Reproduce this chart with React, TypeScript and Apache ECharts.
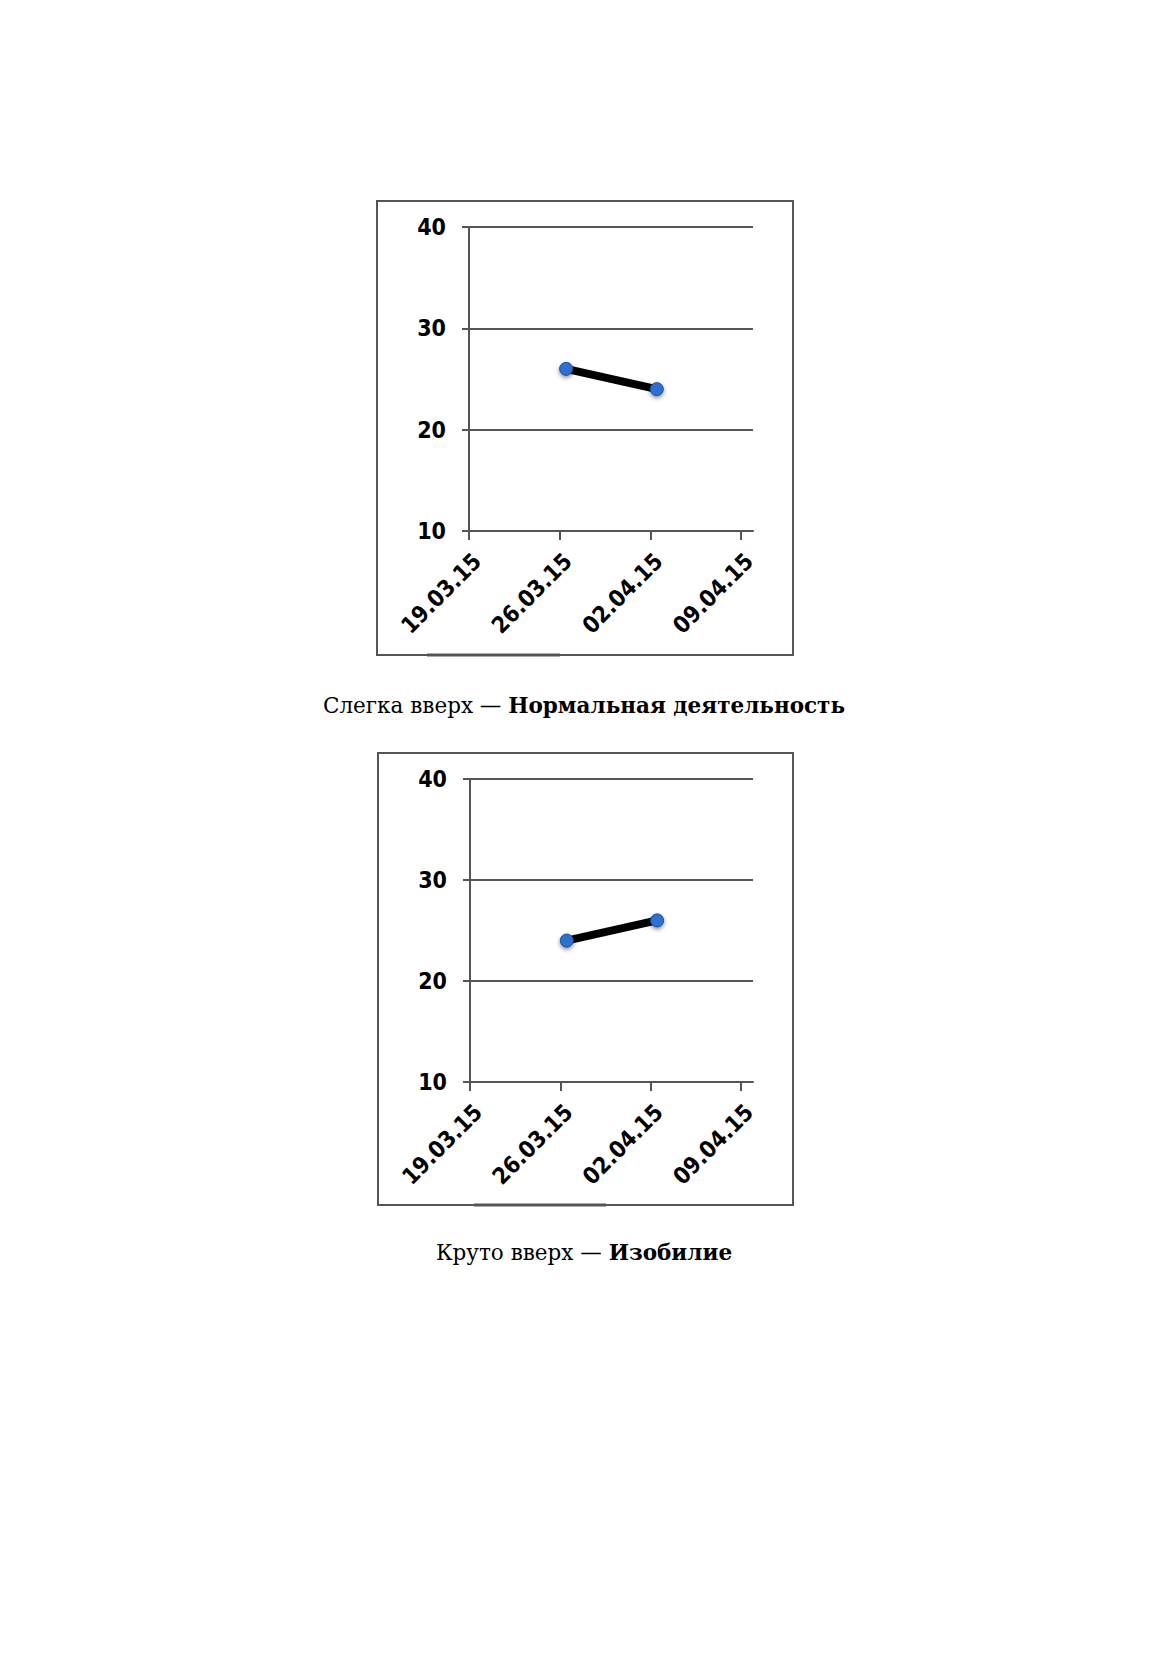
import React, { useEffect, useRef } from "react";
import * as echarts from "echarts";

// ---- data ----
const dateLabels = ["19.03.15", "26.03.15", "02.04.15", "09.04.15"];
const tickDays = [0, 7, 14, 21];
const yTicks = [10, 20, 30, 40];
const pointDays = [7.5, 14.5];
const valuesChart1 = [26, 24];
const valuesChart2 = [24, 26];
const caption1Regular = "Слегка вверх — ";
const caption1Bold = "Нормальная деятельность";
const caption2Regular = "Круто вверх — ";
const caption2Bold = "Изобилие";

const AXIS_COLOR = "#555555";
const TICK_FONT = "'DejaVu Sans Condensed', 'DejaVu Sans', sans-serif";
const CAPTION_FONT = "DejaVu Serif";

function makeAxes(gridIndex: number) {
  const xAxis = {
    type: "value",
    gridIndex,
    min: 0,
    max: 21.93,
    interval: 7,
    axisLine: { show: true, onZero: false, lineStyle: { color: AXIS_COLOR, width: 2 } },
    axisTick: {
      show: true,
      customValues: tickDays,
      length: 9,
      lineStyle: { color: AXIS_COLOR, width: 2 },
    },
    axisLabel: {
      customValues: tickDays,
      formatter: (v: number) => {
        const i = tickDays.indexOf(Math.round(v));
        return i >= 0 ? dateLabels[i] : "";
      },
      rotate: 45,
      margin: 18,
      verticalAlign: "top",
      color: "#000",
      fontFamily: TICK_FONT,
      fontWeight: "bold",
      fontSize: 23,
    },
    splitLine: { show: false },
  };
  const yAxis = {
    type: "value",
    gridIndex,
    min: yTicks[0],
    max: yTicks[yTicks.length - 1],
    interval: 10,
    axisLine: { show: true, lineStyle: { color: AXIS_COLOR, width: 2 } },
    axisTick: { show: true, length: 7, lineStyle: { color: AXIS_COLOR, width: 2 } },
    axisLabel: {
      margin: 23,
      color: "#000",
      fontFamily: TICK_FONT,
      fontWeight: "bold",
      fontSize: 23,
    },
    splitLine: { show: true, lineStyle: { color: AXIS_COLOR, width: 2 } },
  };
  return { xAxis, yAxis };
}

function makeSeries(index: number, values: number[]) {
  return {
    type: "line",
    xAxisIndex: index,
    yAxisIndex: index,
    data: pointDays.map((d, i) => [d, values[i]]),
    lineStyle: { color: "#000", width: 8 },
    symbol: "circle",
    symbolSize: 13,
    itemStyle: {
      color: "#2f6fd0",
      borderColor: "#1c4d9a",
      borderWidth: 1,
      shadowBlur: 4,
      shadowColor: "rgba(0,0,0,0.45)",
      shadowOffsetY: 2,
    },
    z: 5,
  };
}

export default function App() {
  const ref = useRef<HTMLDivElement>(null);
  useEffect(() => {
    if (!ref.current) return;
    const chart = echarts.init(ref.current, undefined, { renderer: "svg" });
    const a1 = makeAxes(0);
    const a2 = makeAxes(1);
    const rich = {
      r: { fontFamily: CAPTION_FONT, fontSize: 21.5, color: "#111" },
      b: { fontFamily: CAPTION_FONT, fontSize: 21.5, fontWeight: "bold", color: "#111" },
    };
    chart.setOption({
      animation: false,
      backgroundColor: "#fff",
      grid: [
        { left: 469, top: 227, width: 284, height: 304 },
        { left: 470, top: 779, width: 283, height: 303 },
      ],
      xAxis: [a1.xAxis, a2.xAxis],
      yAxis: [a1.yAxis, a2.yAxis],
      series: [makeSeries(0, valuesChart1), makeSeries(1, valuesChart2)],
      graphic: [
        {
          type: "rect",
          shape: { x: 377, y: 201, width: 416, height: 454 },
          style: { fill: "none", stroke: AXIS_COLOR, lineWidth: 2 },
          silent: true,
        },
        {
          type: "line",
          shape: { x1: 427, y1: 655, x2: 560, y2: 655 },
          style: { stroke: AXIS_COLOR, lineWidth: 3 },
          silent: true,
        },
        {
          type: "rect",
          shape: { x: 378, y: 753, width: 415, height: 452 },
          style: { fill: "none", stroke: AXIS_COLOR, lineWidth: 2 },
          silent: true,
        },
        {
          type: "line",
          shape: { x1: 474, y1: 1205, x2: 606, y2: 1205 },
          style: { stroke: AXIS_COLOR, lineWidth: 3 },
          silent: true,
        },
        {
          type: "text",
          x: 584,
          y: 705,
          style: {
            text: `{r|${caption1Regular}}{b|${caption1Bold}}`,
            rich,
            align: "center",
            verticalAlign: "middle",
          },
        },
        {
          type: "text",
          x: 584,
          y: 1252,
          style: {
            text: `{r|${caption2Regular}}{b|${caption2Bold}}`,
            rich,
            align: "center",
            verticalAlign: "middle",
          },
        },
      ],
    });
    return () => chart.dispose();
  }, []);
  return (
    <div
      ref={ref}
      style={{ position: "absolute", left: 0, top: 0, width: 1169, height: 1654 }}
    />
  );
}
